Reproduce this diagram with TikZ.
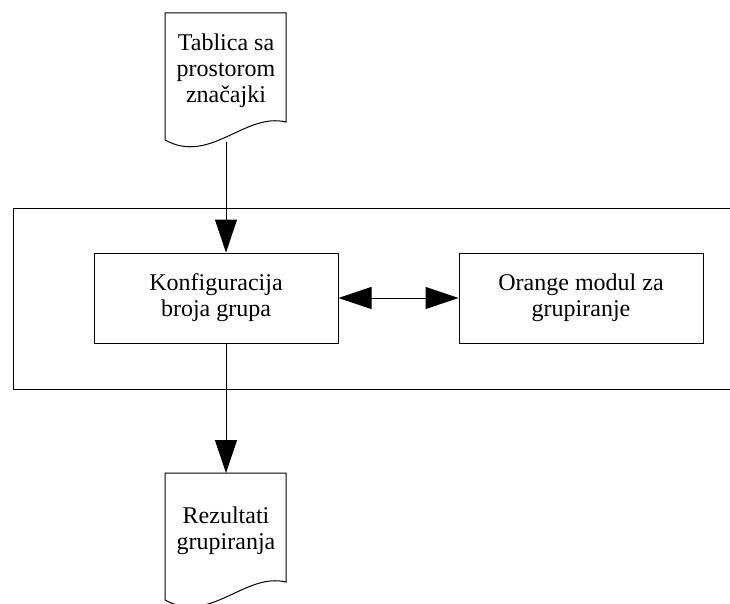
\documentclass[tikz,border=0pt]{standalone}
\usepackage{fontspec}
\setmainfont{Liberation Serif}
\usetikzlibrary{arrows.meta}

\tikzset{
    box/.style={draw, line width=1pt, minimum width=244pt, minimum height=90pt, align=center},
    doc/.style={align=center, inner sep=0pt},
    arr/.style={line width=1pt, -{Triangle[length=33pt, width=22pt]}},
}
% document outline round a text node
\newcommand{\docoutline}[1]{%
    \draw[line width=1pt] ([shift={(-61,69)}]#1.center) -- ([shift={(-61,-58)}]#1.center)
        -- ([shift={(60,-58)}]#1.center) -- ([shift={(60,51)}]#1.center)
        .. controls ([shift={(19,41)}]#1.center) and ([shift={(-16,94)}]#1.center)
        .. ([shift={(-61,69)}]#1.center);}

\begin{document}
\begin{tikzpicture}[x=1pt, y=-1pt, font=\fontsize{24}{26}\selectfont]
        \useasboundingbox (0,0) rectangle (730,604);

        % frame
        \draw[line width=1pt] (740,208) -- (13,208) -- (13,389) -- (740,389);

        \node[doc] (tab) at (226,71) {Tablica sa\\prostorom\\značajki};
        \docoutline{tab}
        \node[box] (konf) at (216,298) {Konfiguracija\\broja grupa};
        \node[box] (orange) at (581,298) {Orange modul za\\grupiranje};
        \node[doc] (rez) at (226,531) {Rezultati\\grupiranja};
        \docoutline{rez}

        \coordinate (tabout) at (226,142);
        \coordinate (rezin) at (226,473);

        \draw[arr] (tabout) -- (tabout |- konf.north);
        \draw[arr] (rezin |- konf.south) -- (rezin);
        \draw[line width=1pt, {Triangle[length=33pt, width=22pt]}-{Triangle[length=33pt, width=22pt]}] (konf) -- (orange);
    \end{tikzpicture}
\end{document}
